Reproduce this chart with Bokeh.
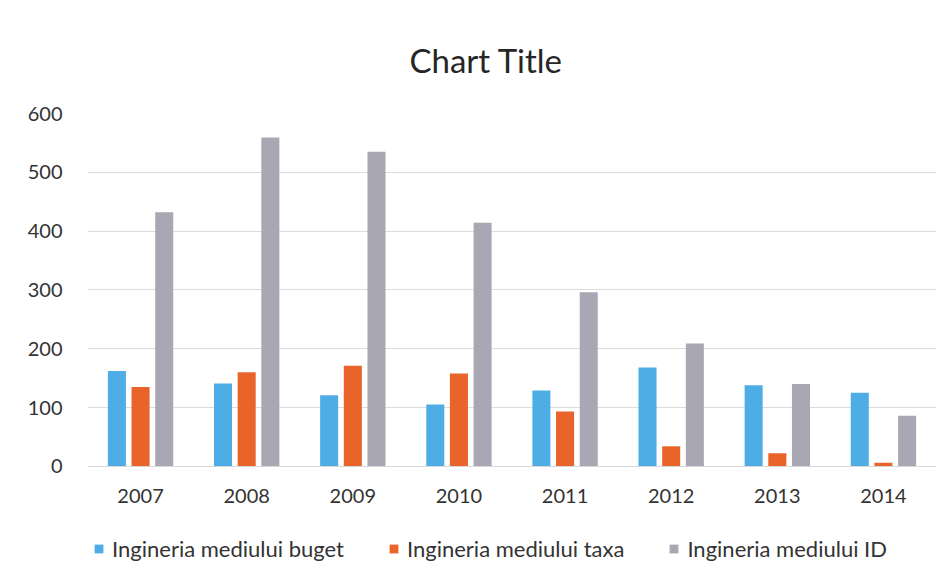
from bokeh.plotting import figure
from bokeh.models import ColumnDataSource, Range1d, FactorRange, Legend, LegendItem, Title
from bokeh.transform import dodge
from bokeh.embed import file_html
from bokeh.resources import INLINE

years = ["2007", "2008", "2009", "2010", "2011", "2012", "2013", "2014"]
buget = [162, 141, 121, 105, 129, 168, 138, 125]
taxa = [135, 160, 171, 158, 93, 34, 22, 6]
id_vals = [432, 559, 535, 414, 296, 209, 140, 86]
series_names = ["Ingineria mediului buget", "Ingineria mediului taxa", "Ingineria mediului ID"]
colors = ["#4FADE6", "#E8642B", "#A9A7B3"]
y_ticks = [0, 100, 200, 300, 400, 500, 600]

FONT = "Lato"

src = ColumnDataSource(dict(year=years, buget=buget, taxa=taxa, idv=id_vals))

# frame extends below zero to host the category labels and the legend
p = figure(frame_width=849, frame_height=461, x_range=FactorRange(*years), y_range=Range1d(-184, 600),
           output_backend="svg", toolbar_location=None,
           min_border_left=87, min_border_right=8, min_border_top=113, min_border_bottom=0)
p.outline_line_color = None
p.background_fill_color = "white"
p.border_fill_color = "white"

title = Title(text="Chart Title", align="left", offset=322, standoff=68,
              text_font=FONT, text_font_size="33px", text_font_style="normal",
              text_color="#262626")
p.add_layout(title, "above")
p.title.visible = False

w = 0.17
off = 0.223
r1 = p.vbar(x=dodge("year", -off, range=p.x_range), top="buget", width=w, source=src,
            fill_color=colors[0], line_color=None)
r2 = p.vbar(x=dodge("year", 0.0, range=p.x_range), top="taxa", width=w, source=src,
            fill_color=colors[1], line_color=None)
r3 = p.vbar(x=dodge("year", off, range=p.x_range), top="idv", width=w, source=src,
            fill_color=colors[2], line_color=None)

# axes
p.yaxis.ticker = y_ticks
p.yaxis.axis_line_color = None
p.yaxis.major_tick_line_color = None
p.yaxis.minor_tick_line_color = None
p.yaxis.major_label_standoff = 19
p.yaxis.major_label_text_font = FONT
p.yaxis.major_label_text_font_size = "20px"
p.yaxis.major_label_text_color = "#333333"

p.xaxis.fixed_location = 0
p.xaxis.axis_line_color = "#d9d9d9"
p.xaxis.major_tick_line_color = None
p.xaxis.minor_tick_line_color = None
p.xaxis.major_label_standoff = 17
p.xaxis.major_label_text_font = FONT
p.xaxis.major_label_text_font_size = "20px"
p.xaxis.major_label_text_color = "#333333"

p.xgrid.grid_line_color = None
p.ygrid.grid_line_color = "#dcdcdc"
p.ygrid.grid_line_width = 1

legend = Legend(items=[LegendItem(label=series_names[0], renderers=[r1]),
                       LegendItem(label=series_names[1], renderers=[r2]),
                       LegendItem(label=series_names[2], renderers=[r3])],
                orientation="horizontal", location=(6, 12),
                glyph_width=11, glyph_height=11, label_standoff=8, spacing=44,
                padding=0, margin=0, border_line_color=None, background_fill_alpha=0,
                label_text_font=FONT, label_text_font_size="22px", label_text_color="#333333")
p.add_layout(legend, "center")

open("out.html", "w").write(file_html(p, INLINE))
